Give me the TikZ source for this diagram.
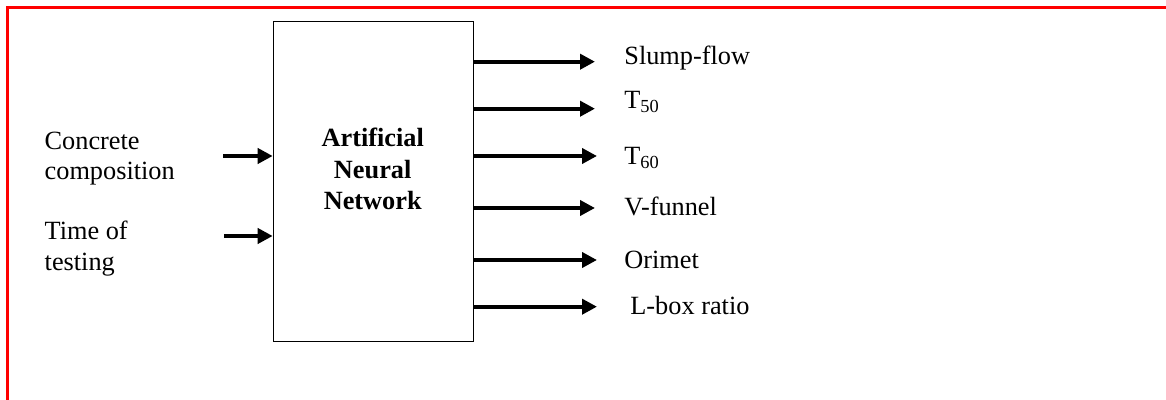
\documentclass[tikz,border=0pt]{standalone}
\usepackage{fontspec}
\setmainfont{Liberation Serif}
\usepackage{tikz}
\usetikzlibrary{arrows.meta, positioning}

\tikzset{
  arr/.style={line width=2pt, -{Triangle[length=7.5pt, width=7.5pt]}},
  lbl/.style={inner sep=0pt, font=\fontsize{13.15}{15.4}\selectfont},
}

\begin{document}
\begin{tikzpicture}[x=0.5pt, y=-0.5pt]
        \useasboundingbox (0,0) rectangle (1166,400);

        % Frame
        \draw[red, line width=1.1pt] (7.5,400) -- (7.5,7.5) -- (1166,7.5);

        % Network box
        \node[draw, line width=0.8pt, inner sep=0pt, minimum width=100pt, minimum height=160pt, anchor=north west] (ann) at (272.7,20.7) {};
        \node[lbl, align=center, font=\fontsize{13.15}{15.85}\selectfont\bfseries, anchor=base] (annText) at (372.7,210) {Artificial\\Neural\\Network};

        % Inputs
        \node[lbl, align=left, anchor=base west] (inComp) at (44.3,180) {Concrete\\composition};
        \node[lbl, align=left, anchor=base west] (inTime) at (44.3,270.7) {Time of\\testing};
        \coordinate (i1) at (223,156);
        \coordinate (i2) at (224,236);
        \draw[arr] (i1) -- (i1 -| ann.west);
        \draw[arr] (i2) -- (i2 -| ann.west);

        % Outputs
        \coordinate (o1) at (595,61.7);
        \coordinate (o2) at (595,108.7);
        \coordinate (o3) at (597,156);
        \coordinate (o4) at (595,208);
        \coordinate (o5) at (597,260);
        \coordinate (o6) at (597,306.7);
        \draw[arr] (ann.east |- o1) -- (o1);
        \draw[arr] (ann.east |- o2) -- (o2);
        \draw[arr] (ann.east |- o3) -- (o3);
        \draw[arr] (ann.east |- o4) -- (o4);
        \draw[arr] (ann.east |- o5) -- (o5);
        \draw[arr] (ann.east |- o6) -- (o6);

        \node[lbl, anchor=base west] (outSlump) at (624,65) {Slump-flow};
        \node[lbl, anchor=base west] (outT50) at (624,108.3) {T\textsubscript{50}};
        \node[lbl, anchor=base west] (outT60) at (624,164.3) {T\textsubscript{60}};
        \node[lbl, anchor=base west] (outVfun) at (624,216) {V-funnel};
        \node[lbl, anchor=base west] (outOrimet) at (624,268.3) {Orimet};
        \node[lbl, anchor=base west] (outLbox) at (630,315) {L-box ratio};
\end{tikzpicture}
\end{document}
